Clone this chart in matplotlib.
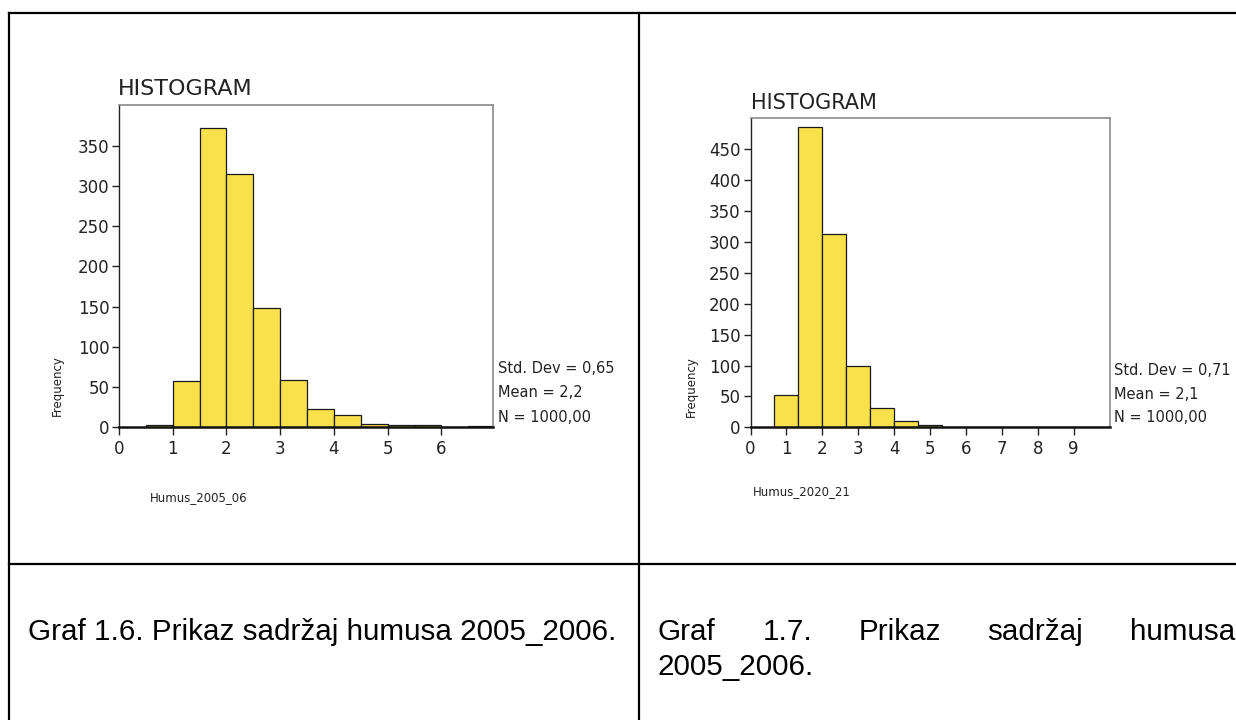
import matplotlib.pyplot as plt
from matplotlib.lines import Line2D

# bin left edges and counts
edges_2005 = [0.5, 1.0, 1.5, 2.0, 2.5, 3.0, 3.5, 4.0, 4.5, 5.0, 5.5, 6.0, 6.5]
counts_2005 = [2, 57, 372, 315, 148, 59, 23, 15, 4, 2, 2, 0, 1]
width_2005 = 0.5

edges_2020 = [0.667, 1.333, 2.0, 2.667, 3.333, 4.0, 4.667, 5.333, 6.0, 6.667,
              7.333, 8.0, 8.667, 9.333]
counts_2020 = [53, 486, 313, 100, 31, 10, 4, 0, 1, 1, 0, 0, 0, 1]
width_2020 = 0.667

stats_2005 = ["Std. Dev = 0,65", "Mean = 2,2", "N = 1000,00"]
stats_2020 = ["Std. Dev = 0,71", "Mean = 2,1", "N = 1000,00"]

caption_left = "Graf 1.6. Prikaz sadržaj humusa 2005_2006."
caption_right_words = ["Graf", "1.7.", "Prikaz", "sadržaj", "humusa"]
caption_right_line2 = "2005_2006."

W, H = 1236, 720
BAR = "#f8e14a"
INK = "#222222"


def fx(px):
    return px / W


def fy(py):
    return 1 - py / H


fig = plt.figure(figsize=(W / 100, H / 100), dpi=100)
fig.patch.set_facecolor("white")


def histogram(box, edges, counts, width, xmax, ymax, xticks, yticks):
    x0, y0, x1, y1 = box
    ax = fig.add_axes([fx(x0), fy(y1), fx(x1) - fx(x0), fy(y0) - fy(y1)])
    ax.bar(edges, counts, width=width, align="edge", color=BAR,
           edgecolor="#1a1a1a", linewidth=0.9, zorder=2)
    ax.set_xlim(0, xmax)
    ax.set_ylim(0, ymax)
    ax.set_xticks(xticks)
    ax.set_yticks(yticks)
    ax.tick_params(axis="both", direction="out", colors=INK,
                   labelsize=12, width=1.0, pad=2)
    ax.tick_params(axis="x", length=6, pad=3)
    ax.tick_params(axis="y", length=5)
    for s in ["top", "right"]:
        ax.spines[s].set_color("#8a8a8a")
        ax.spines[s].set_linewidth(1.2)
    ax.spines["left"].set_color(INK)
    ax.spines["left"].set_linewidth(1.0)
    ax.spines["bottom"].set_color("#111111")
    ax.spines["bottom"].set_linewidth(1.8)
    ax.spines["bottom"].set_zorder(3)
    return ax


histogram((119, 105, 493, 427), edges_2005, counts_2005, width_2005,
          6.96, 401, range(0, 7), range(0, 351, 50))
histogram((750.5, 117.7, 1110, 427.3), edges_2020, counts_2020, width_2020,
          10.01, 501, range(0, 10), range(0, 451, 50))

# titles, axis titles and statistics
fig.text(fx(118), fy(95), "HISTOGRAM", fontsize=16, va="baseline", color=INK)
fig.text(fx(751), fy(109), "HISTOGRAM", fontsize=15, va="baseline", color=INK)

fig.text(fx(57), fy(386), "Frequency", rotation=90, fontsize=8.5,
         ha="center", va="center", color=INK)
fig.text(fx(691), fy(387), "Frequency", rotation=90, fontsize=8.5,
         ha="center", va="center", color=INK)

fig.text(fx(150), fy(498), "Humus_2005_06", fontsize=8.5, va="center", color=INK)
fig.text(fx(753), fy(492), "Humus_2020_21", fontsize=8.5, va="center", color=INK)

for i, s in enumerate(stats_2005):
    fig.text(fx(498), fy(369 + 24 * i), s, fontsize=10.5, va="center", color=INK)
for i, s in enumerate(stats_2020):
    fig.text(fx(1114), fy(371 + 23 * i), s, fontsize=10.5, va="center", color=INK)

# table grid
lw = 1.6
for (xa, ya, xb, yb) in [(8.5, 13, 1236, 13), (8.5, 13, 8.5, 720),
                         (639, 13, 639, 720), (8.5, 564, 1236, 564)]:
    fig.add_artist(Line2D([fx(xa), fx(xb)], [fy(ya), fy(yb)], color="black",
                          linewidth=lw, transform=fig.transFigure))

# captions
cap_font = dict(fontsize=21.3, family="Liberation Sans", color="black", va="baseline")
fig.text(fx(28), fy(640), caption_left, **cap_font)

# right caption is justified over the cell width
renderer = fig.canvas.get_renderer()
words = [fig.text(0, fy(640), w, **cap_font) for w in caption_right_words]
widths = [t.get_window_extent(renderer).width for t in words]
left, right = 658, 1235
gap = (right - left - sum(widths)) / (len(words) - 1)
x = left
for t, w in zip(words, widths):
    t.set_x(fx(x))
    x += w + gap
fig.text(fx(left), fy(675), caption_right_line2, **cap_font)

fig.savefig("out.png", dpi=100)
